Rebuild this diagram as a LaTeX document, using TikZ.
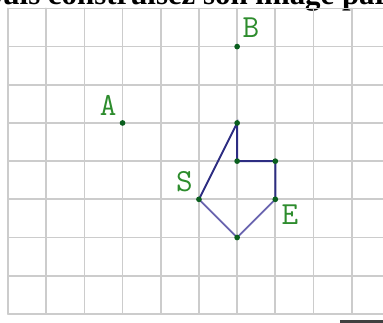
\documentclass[tikz,border=0pt]{standalone}
\usepackage{fontspec}
\usepackage{xcolor}
\newfontfamily\headfont{Liberation Serif}
\definecolor{gridgray}{RGB}{204,204,204}
\definecolor{ptgreen}{RGB}{10,95,30}
\definecolor{lblgreen}{RGB}{45,140,45}
\definecolor{navyline}{RGB}{45,45,130}
\definecolor{slateline}{RGB}{105,100,175}
\usetikzlibrary{calc}

\begin{document}
\begin{tikzpicture}[x=1cm, y=1cm, line cap=round]
  \tikzset{
    pt/.style={fill=ptgreen},
    lbl/.style={font=\fontsize{24}{24}\selectfont\ttfamily, text=lblgreen, inner sep=0pt},
    dark/.style={navyline, line width=1.4pt},
    light/.style={slateline, line width=1.4pt}
  }
  \useasboundingbox (-0.21,-0.236) rectangle (9.82,8.22);
  \clip (-0.21,-0.236) rectangle (9.82,8.22);
  % heading, cut off at the top
  \node[anchor=base west, inner sep=0pt, font=\fontsize{23}{23}\selectfont\headfont\bfseries]
    (head) at (-0.6,8.09) {puis construisez son image par};
  % squared paper
  \draw[gridgray, line width=1.3pt] (0,0) grid (10.5,8);
  \draw[gridgray, line width=1.3pt] (0,0) -- (10.5,0);
  % points
  \coordinate (B) at (6,7);
  \coordinate (A) at (3,5);
  \coordinate (P1) at (6,5);
  \coordinate (P2) at (6,4);
  \coordinate (P3) at (7,4);
  \coordinate (E) at (7,3);
  \coordinate (P5) at (6,2);
  \coordinate (S) at (5,3);
  % figure
  \draw[dark] (S) -- (P1) -- (P2) -- (P3) -- (E);
  \draw[light] (E) -- (P5) -- (S);
  \foreach \p in {B,A,P1,P2,P3,E,P5,S}
    \fill[pt] (\p) circle (0.075);
  \node[lbl] (labB) at (6.36,7.49) {B};
  \node[lbl] (labA) at (2.62,5.47) {A};
  \node[lbl] (labS) at (4.62,3.47) {S};
  \node[lbl] (labE) at (7.38,2.59) {E};
  % bar at the bottom right
  \coordinate (barL) at (8.69,-0.2);
  \coordinate (barR) at (9.9,-0.2);
  \draw[black!75, line width=2pt, line cap=butt] (barL) -- (barR);
\end{tikzpicture}
\end{document}
